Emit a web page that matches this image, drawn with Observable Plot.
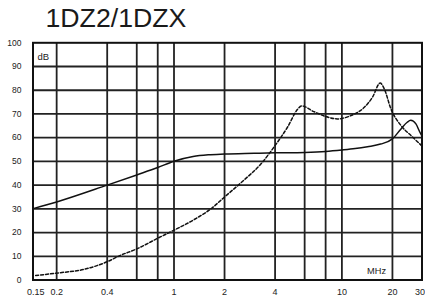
<!DOCTYPE html>
<html>
<head>
<meta charset="utf-8">
<script src="https://cdn.jsdelivr.net/npm/d3@7"></script>
<script src="https://cdn.jsdelivr.net/npm/@observablehq/plot@0.6"></script>
<style>
  html, body { margin: 0; padding: 0; background: #fff; }
  #chart { width: 425px; height: 297px; overflow: hidden; }
</style>
</head>
<body>
<div id="chart"></div>
<script>
const title = "1DZ2/1DZX";
const yUnit = "dB";
const xUnit = "MHz";

const xTicks = [0.15, 0.2, 0.4, 0.6, 0.8, 1, 2, 4, 6, 8, 10, 20, 30];
const xTickLabels = ["0.15", "0.2", "0.4", "0.6", "0.8", "1", "2", "4", "6", "8", "10", "20", "30"];
const xGrid = [0.2, 0.4, 0.6, 0.8, 1, 2, 4, 6, 8, 10, 20];
const yTicks = [0, 10, 20, 30, 40, 50, 60, 70, 80, 90, 100];
const yGrid = [10, 20, 30, 40, 50, 60, 70, 80, 90];

const solidFreq = [0.145, 0.2, 0.4, 0.6, 0.8, 1, 1.3, 1.6, 2, 3, 4, 6, 8, 10, 12, 14.2, 17, 20, 22.5, 24.5, 25.7, 27.6, 29, 30];
const solidDb   = [30.1, 32.9, 40, 44.3, 47.4, 50.1, 52.1, 52.8, 53.1, 53.4, 53.6, 53.8, 54.2, 54.8, 55.4, 56.2, 57.3, 59.5, 63.7, 66.5, 67.3, 65.8, 62.6, 60.6];

const dashedFreq = [0.15, 0.2, 0.3, 0.4, 0.48, 0.6, 0.8, 1, 1.32, 1.66, 2, 2.6, 3.3, 4, 4.75, 5.45, 5.75, 6.8, 8.3, 9.4, 11.3, 13.6, 15.2, 16.9, 17.9, 19.6, 22.5, 25.8, 30];
const dashedDb   = [1.9, 2.9, 4.7, 7.7, 10.4, 13.1, 17.6, 21, 25.5, 30, 35, 42, 49, 56.7, 64.5, 72, 73.4, 71, 68.6, 67.9, 69.3, 72.8, 77, 83, 80.5, 72.1, 65.1, 60.9, 56.5];

const solid = solidFreq.map((f, i) => ({f, db: solidDb[i]}));
const dashed = dashedFreq.map((f, i) => ({f, db: dashedDb[i]}));
const xLabelMap = new Map(xTicks.map((t, i) => [t, xTickLabels[i]]));
const lastTick = xTicks[xTicks.length - 1];
const innerTicks = xTicks.slice(0, -1);

const font = "'Liberation Sans', Arial, sans-serif";
const xAxisStyle = {tickSize: 0, tickPadding: 9, fontSize: 9, tickFormat: d => xLabelMap.get(d) ?? String(d), fill: "#222", label: null};

const plot = Plot.plot({
  width: 425,
  height: 297,
  marginLeft: 32.5,
  marginRight: 3.5,
  marginTop: 42.3,
  marginBottom: 17.5,
  style: {fontFamily: font, color: "#222", background: "#fff", overflow: "visible"},
  x: {type: "log", domain: [0.1446, 30], label: null},
  y: {domain: [0, 100], label: null},
  marks: [
    Plot.ruleX(xGrid, {stroke: "#222", strokeWidth: 1.8}),
    Plot.ruleY(yGrid, {stroke: "#222", strokeWidth: 1.8}),
    Plot.frame({stroke: "#111", strokeWidth: 2}),
    Plot.line(solid, {x: "f", y: "db", stroke: "#111", strokeWidth: 1.5, curve: "monotone-x"}),
    Plot.line(dashed, {x: "f", y: "db", stroke: "#111", strokeWidth: 1.5, strokeDasharray: "3,2", curve: "monotone-x"}),
    Plot.axisX({ticks: innerTicks, ...xAxisStyle}),
    Plot.axisX({ticks: [lastTick], ...xAxisStyle, textAnchor: "end", dx: 3}),
    Plot.axisY({ticks: yTicks, tickSize: 0, tickPadding: 11.5, fontSize: 8.5, fill: "#222", label: null}),
    Plot.text([yUnit], {frameAnchor: "top-left", dx: 4.5, dy: 14.5, lineAnchor: "middle", textAnchor: "start", fontSize: 9.5, fill: "#222"}),
    Plot.text([xUnit], {frameAnchor: "bottom-right", dx: -36, dy: -8.5, lineAnchor: "middle", textAnchor: "end", fontSize: 9.2, fill: "#222"}),
    Plot.text([title], {frameAnchor: "top-left", dx: 12.5, dy: -15.6, lineAnchor: "bottom", textAnchor: "start", fontSize: 26.7, fill: "#1a1a1a"})
  ]
});
document.getElementById("chart").appendChild(plot);
</script>
</body>
</html>
